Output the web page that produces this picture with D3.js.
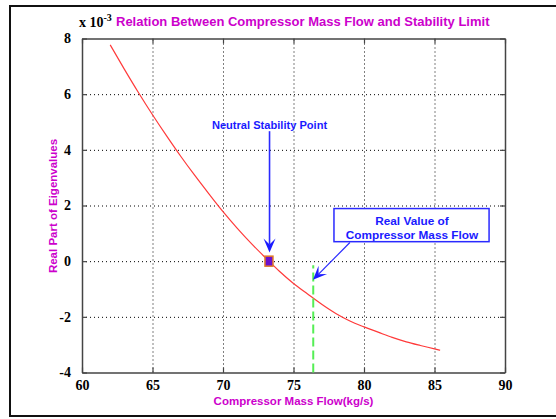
<!DOCTYPE html>
<html lang="en">
<head>
<meta charset="UTF-8">
<title>Compressor Mass Flow and Stability Limit</title>
<script src="https://d3js.org/d3.v7.min.js"></script>
<style>
  body { margin:0; background:#fff; }
  .tick text { font-family:"Liberation Serif","Times New Roman",serif; font-weight:bold; font-size:14px; fill:#000; }
</style>
</head>
<body>
<svg id="chart" width="556" height="419"></svg>
<script>
// data (real part values are in units of 1e-3)
var massFlow = [62, 63, 64, 65, 66, 67, 68, 69, 70, 71, 72, 73, 74, 75, 76, 77, 78, 79, 80, 81, 82, 83, 84, 85, 85.4];
var realPart = [7.77, 6.9, 6.06, 5.26, 4.5, 3.77, 3.08, 2.42, 1.78, 1.19, 0.64, 0.13, -0.36, -0.8, -1.18, -1.55, -1.88, -2.15, -2.36, -2.55, -2.74, -2.9, -3.03, -3.15, -3.2];
var xTicks = [60, 65, 70, 75, 80, 85, 90];
var yTicks = [-4, -2, 0, 2, 4, 6, 8];
var neutralPoint = [73.26, 0];
var realFlow = 76.4;
var realFlowTop = -0.15;

var svg = d3.select("#chart");
var x = d3.scaleLinear().domain([60, 90]).range([82, 505]);
var y = d3.scaleLinear().domain([-4, 8]).range([372.5, 38.5]);

// outer frame
svg.append("rect").attr("x", 10).attr("y", 6).attr("width", 560).attr("height", 410)
  .attr("fill", "#fff").attr("stroke", "#111").attr("stroke-width", 2);

var W = x(90) - x(60), H = y(-4) - y(8);

// grid
svg.append("g").attr("transform", "translate(0," + y(-4) + ")")
  .call(d3.axisBottom(x).tickValues(xTicks.slice(1, -1)).tickSize(-H).tickFormat(""))
  .call(function(g){ g.select(".domain").remove(); g.selectAll("line").attr("stroke", "#000").attr("stroke-dasharray", "1,3"); });
svg.append("g").attr("transform", "translate(" + x(60) + ",0)")
  .call(d3.axisLeft(y).tickValues(yTicks.slice(1, -1)).tickSize(-W).tickFormat(""))
  .call(function(g){ g.select(".domain").remove(); g.selectAll("line").attr("stroke", "#000").attr("stroke-dasharray", "1,3"); });

// axes
function styleAxis(g) {
  g.select(".domain").attr("stroke", "#444").attr("stroke-width", 1.5);
  g.selectAll(".tick line").attr("stroke", "#444").attr("stroke-width", 1.2);
}
svg.append("g").attr("transform", "translate(0," + y(-4) + ")")
  .call(d3.axisBottom(x).tickValues(xTicks).tickFormat(String).tickSizeInner(-5).tickSizeOuter(0).tickPadding(8))
  .call(styleAxis);
svg.append("g").attr("transform", "translate(0," + y(8) + ")")
  .call(d3.axisTop(x).tickValues(xTicks).tickSizeInner(-5).tickSizeOuter(0).tickFormat(""))
  .call(styleAxis);
svg.append("g").attr("transform", "translate(" + x(60) + ",0)")
  .call(d3.axisLeft(y).tickValues(yTicks).tickFormat(String).tickSizeInner(-5).tickSizeOuter(0).tickPadding(11))
  .call(styleAxis);
svg.append("g").attr("transform", "translate(" + x(90) + ",0)")
  .call(d3.axisRight(y).tickValues(yTicks).tickSizeInner(-5).tickSizeOuter(0).tickFormat(""))
  .call(styleAxis);

// curve
var pts = massFlow.map(function(d, i){ return [d, realPart[i]]; });
svg.append("path").datum(pts)
  .attr("fill", "none").attr("stroke", "#ff3a3a").attr("stroke-width", 1.2)
  .attr("d", d3.line().curve(d3.curveMonotoneX).x(function(d){ return x(d[0]); }).y(function(d){ return y(d[1]); }));

// real value line
svg.append("line")
  .attr("x1", x(realFlow)).attr("x2", x(realFlow)).attr("y1", y(-4)).attr("y2", y(realFlowTop))
  .attr("stroke", "#55ee55").attr("stroke-width", 2).attr("stroke-dasharray", "9,4");

// neutral point marker
svg.append("rect")
  .attr("x", x(neutralPoint[0]) - 4).attr("y", y(neutralPoint[1]) - 5).attr("width", 8).attr("height", 10)
  .attr("fill", "#6a0fd0").attr("stroke", "#e07828").attr("stroke-width", 1.5);

// arrows
function arrow(from, to, width) {
  var x1 = x(from[0]), y1 = y(from[1]), x2 = x(to[0]), y2 = y(to[1]);
  var dx = x2 - x1, dy = y2 - y1, len = Math.sqrt(dx * dx + dy * dy);
  var ux = dx / len, uy = dy / len, nx = -uy, ny = ux;
  var L = 14, Hw = 6, notch = 6;
  svg.append("line").attr("x1", x1).attr("y1", y1).attr("x2", x2 - ux * 8).attr("y2", y2 - uy * 8)
    .attr("stroke", "#2a2aff").attr("stroke-width", width);
  var head = [[x2, y2], [x2 - L * ux + Hw * nx, y2 - L * uy + Hw * ny], [x2 - (L - notch) * ux, y2 - (L - notch) * uy],
    [x2 - L * ux - Hw * nx, y2 - L * uy - Hw * ny]];
  svg.append("path").attr("d", "M" + head.join("L") + "Z").attr("fill", "#1a1aff");
}
arrow([73.3, 4.67], [73.3, 0.31], 1.6);
arrow([79.0, 0.67], [76.38, -0.67], 1.2);

// annotations
svg.append("text").attr("x", x(73.3)).attr("y", y(4.9) + 4).attr("text-anchor", "middle")
  .attr("font-family", "Arial, Liberation Sans, sans-serif").attr("font-weight", "bold").attr("font-size", 11.1)
  .attr("fill", "#1a1aff").text("Neutral Stability Point");

svg.append("rect").attr("x", x(77.87)).attr("y", y(1.89)).attr("width", x(88.87) - x(77.87)).attr("height", y(0.7) - y(1.89))
  .attr("fill", "#fff").attr("stroke", "#2a2aff").attr("stroke-width", 1.5);
var box = svg.append("text").attr("text-anchor", "middle")
  .attr("font-family", "Arial, Liberation Sans, sans-serif").attr("font-weight", "bold").attr("font-size", 11.8)
  .attr("fill", "#1a1aff");
box.append("tspan").attr("x", x(83.4)).attr("y", 225).text("Real Value of");
box.append("tspan").attr("x", x(83.4)).attr("y", 238.5).text("Compressor Mass Flow");

// title and labels
svg.append("text").attr("x", 79).attr("y", 27)
  .attr("font-family", "Liberation Serif, Times New Roman, serif").attr("font-weight", "bold").attr("font-size", 14)
  .text("x 10").append("tspan").attr("dy", -6).attr("font-size", 10).text("-3");
svg.append("text").attr("x", 116).attr("y", 26)
  .attr("font-family", "Arial, Liberation Sans, sans-serif").attr("font-weight", "bold").attr("font-size", 13)
  .attr("fill", "#cc00cc").text("Relation Between Compressor Mass Flow and Stability Limit");
svg.append("text").attr("x", x(75)).attr("y", 405).attr("text-anchor", "middle")
  .attr("font-family", "Arial, Liberation Sans, sans-serif").attr("font-weight", "bold").attr("font-size", 11.5)
  .attr("fill", "#cc00cc").text("Compressor Mass Flow(kg/s)");
svg.append("text").attr("transform", "translate(57,206) rotate(-90)").attr("text-anchor", "middle")
  .attr("font-family", "Arial, Liberation Sans, sans-serif").attr("font-weight", "bold").attr("font-size", 11.5)
  .attr("fill", "#cc00cc").text("Real Part of Eigenvalues");
</script>
</body>
</html>
